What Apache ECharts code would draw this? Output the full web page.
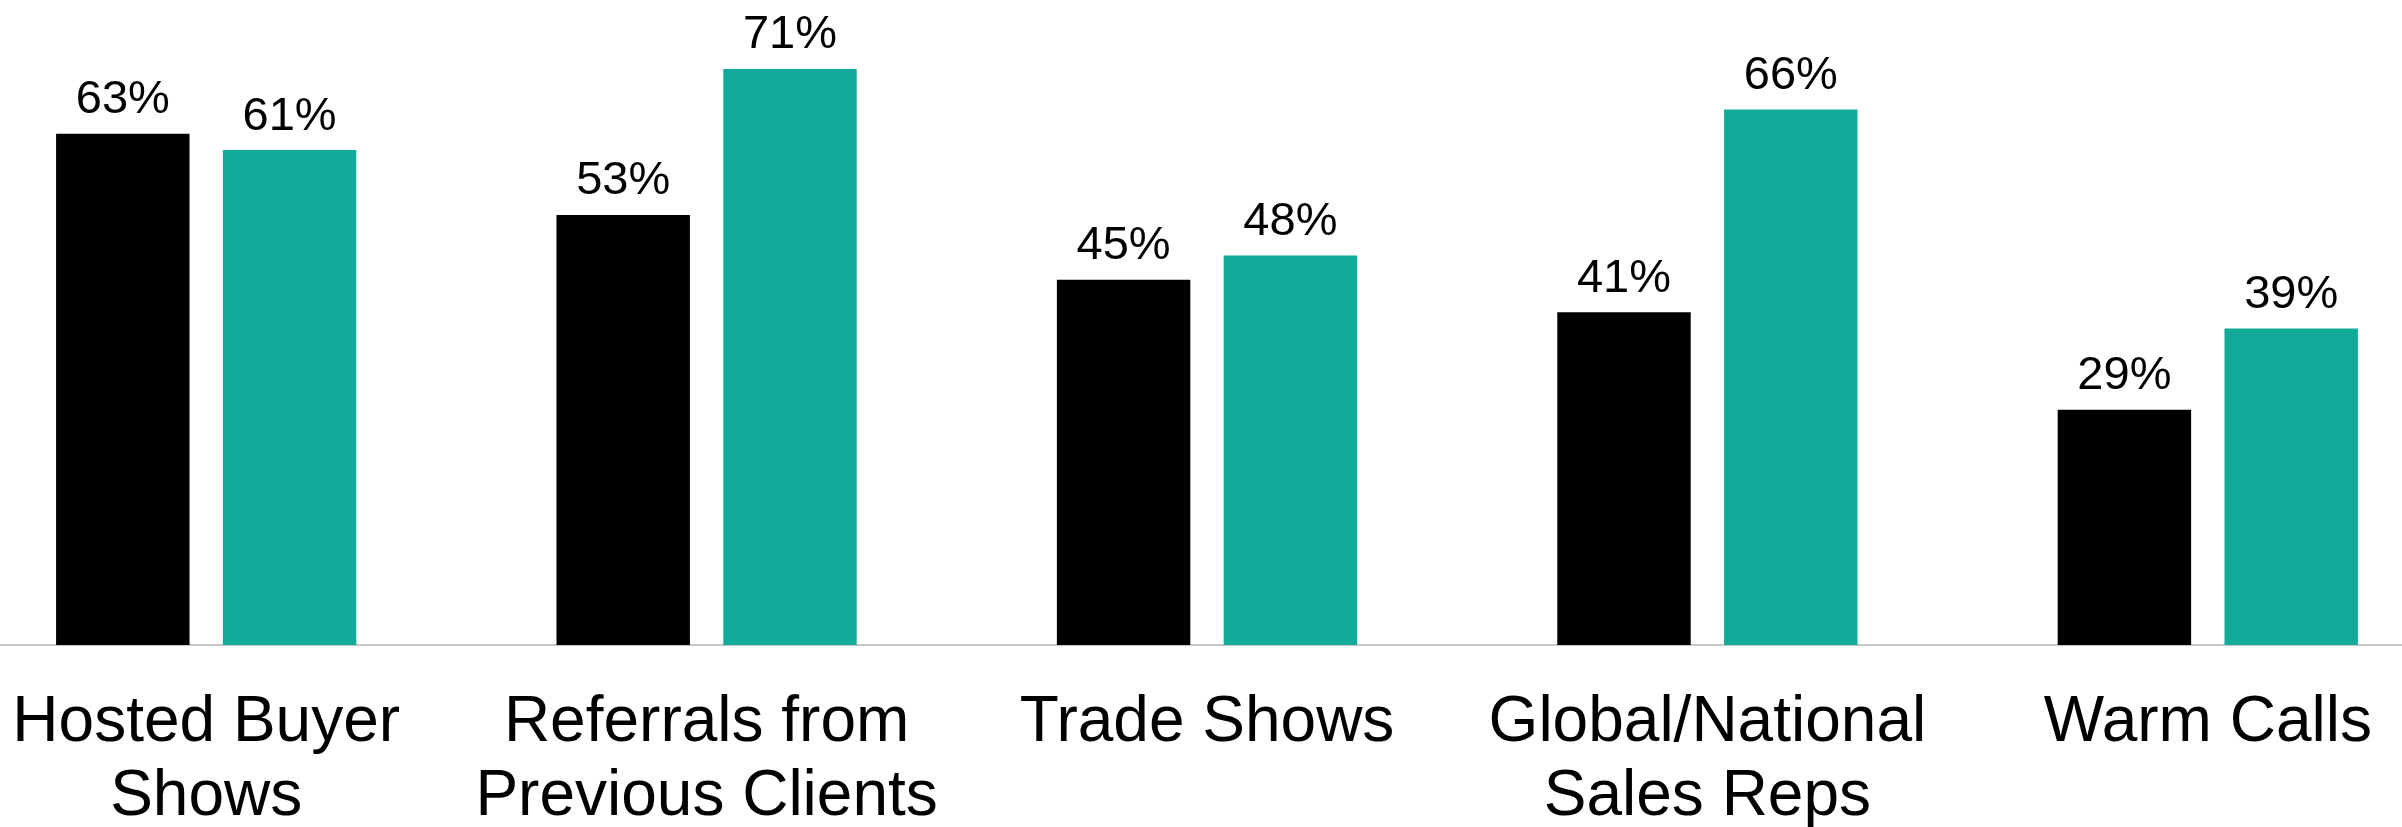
<!DOCTYPE html>
<html>
<head>
<meta charset="utf-8">
<script src="https://cdn.jsdelivr.net/npm/echarts@6/dist/echarts.min.js"></script>
<style>
  html, body { margin: 0; padding: 0; background: #fff; overflow: hidden; }
  /* the category axis runs a bit past both edges of the picture */
  #chart { width: 2502px; height: 827px; margin-left: -44px; }
</style>
</head>
<body>
<div id="chart"></div>
<script>
const categories = [
  'Hosted Buyer\nShows',
  'Referrals from\nPrevious Clients',
  'Trade Shows',
  'Global/National\nSales Reps',
  'Warm Calls'
]
const seriesA = [63, 53, 45, 41, 29]
const seriesB = [61, 71, 48, 66, 39]

const font = "'Liberation Sans', Arial, sans-serif"

const labelStyle = {
  show: true,
  position: 'top',
  distance: 10,
  formatter: '{c}%',
  color: '#000',
  fontFamily: font,
  fontSize: 47
}

const myChart = echarts.init(document.getElementById('chart'))
myChart.setOption({
  animation: false,
  grid: {
    left: 0,
    right: 0,
    top: 4,
    bottom: 182,
    containLabel: false,
    outerBoundsMode: 'none'
  },
  xAxis: {
    type: 'category',
    data: categories,
    axisLine: { lineStyle: { color: '#b3b3b3', width: 1.5 } },
    axisTick: { show: false },
    axisLabel: {
      interval: 0,
      margin: 41,
      color: '#000',
      fontFamily: font,
      fontSize: 64,
      lineHeight: 74,
      align: 'center'
    }
  },
  yAxis: {
    type: 'value',
    min: 0,
    max: 79,
    show: false,
    splitLine: { show: false }
  },
  series: [
    {
      name: 'Series A',
      type: 'bar',
      data: seriesA,
      barGap: '25%',
      barCategoryGap: '40%',
      itemStyle: { color: '#000000' },
      label: labelStyle
    },
    {
      name: 'Series B',
      type: 'bar',
      data: seriesB,
      barGap: '25%',
      barCategoryGap: '40%',
      itemStyle: { color: '#12ab9a' },
      label: labelStyle
    }
  ]
})
</script>
</body>
</html>
